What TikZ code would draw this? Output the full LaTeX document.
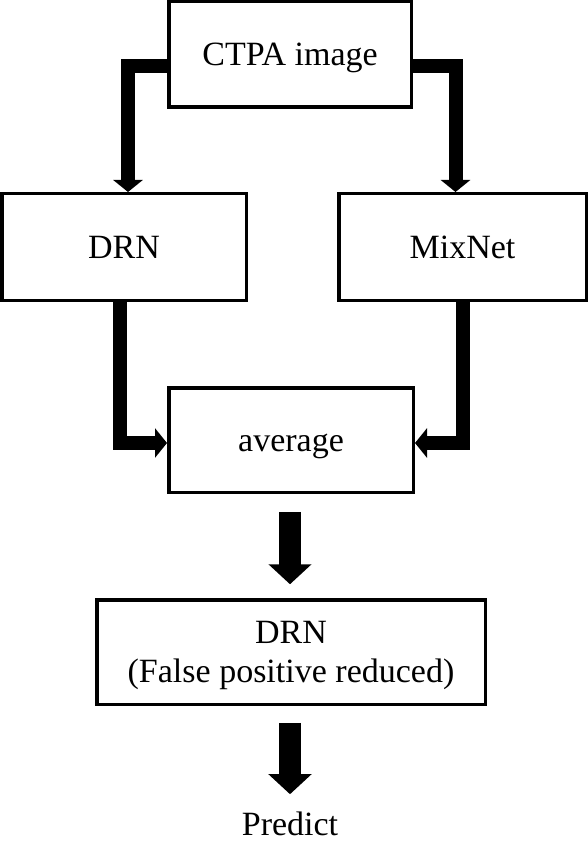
\documentclass[tikz,border=0pt]{standalone}
\usepackage{fontspec}
\setmainfont{Liberation Serif}
\usetikzlibrary{arrows.meta}
\begin{document}
\begin{tikzpicture}[x=1pt,y=-1pt,
  box/.style={draw=black,line width=3.5pt,fill=white,inner sep=0pt,align=center,
    text height=22.5pt,text depth=0pt,
    font=\fontsize{34}{39}\selectfont},
  thinarrow/.style={line width=14pt,line join=miter,-{Triangle[width=29pt,length=12pt]}},
  bigarrow/.style={line width=22pt,-{Triangle[width=42pt,length=20pt]}}]
\useasboundingbox (0,0) rectangle (588,842);
\node[box,minimum width=242.5pt,minimum height=105.5pt] (ctpa) at (290,54.5) {CTPA image};
\node[box,minimum width=244.5pt,minimum height=106.5pt] (drn) at (124,247) {DRN};
\node[box,minimum width=247.5pt,minimum height=106.5pt] (mix) at (462.5,247) {MixNet};
\node[box,minimum width=244.5pt,minimum height=104.5pt] (avg) at (291,440) {average};
\node[box,text height=61.5pt,minimum width=388.5pt,minimum height=104.5pt] (fp) at (291,652) {DRN\\(False positive reduced)};
\node[inner sep=0pt,anchor=base,font=\fontsize{34}{39}\selectfont] (pred) at (290,835) {Predict};
\draw[thinarrow] ([yshift=-11.5pt]ctpa.west) -| ([xshift=4pt]drn.north);
\draw[thinarrow] ([yshift=-11.5pt]ctpa.east) -| ([xshift=-7pt]mix.north);
\draw[thinarrow] ([xshift=-4pt]drn.south) |- ([yshift=-3pt]avg.west);
\draw[thinarrow] (mix.south) |- ([yshift=-3pt]avg.east);
\draw[bigarrow,shorten <=17.75pt,shorten >=13.75pt] ([xshift=-1pt]avg.south) -- ([xshift=-1pt]fp.north);
\draw[bigarrow,shorten <=16.75pt,shorten >=17pt] ([xshift=-1pt]fp.south) -- (pred.north);
\end{tikzpicture}
\end{document}
